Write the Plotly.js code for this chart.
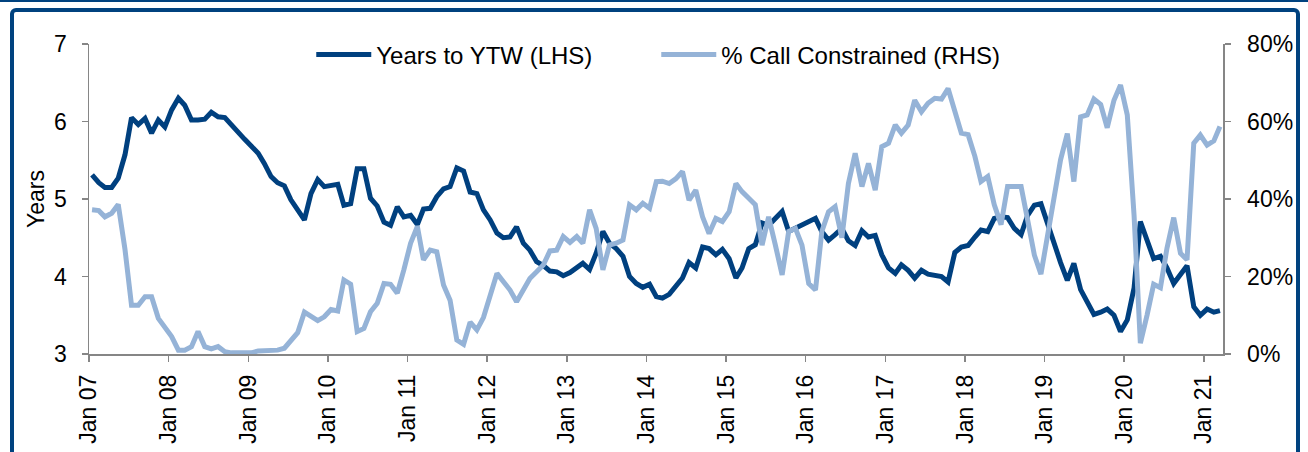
<!DOCTYPE html>
<html>
<head>
<meta charset="utf-8">
<script src="https://cdn.plot.ly/plotly-3.0.1.min.js"></script>
<style>
  body { margin: 0; background: #fff; }
  #wrap { position: relative; width: 1308px; height: 452px; overflow: hidden; }
  #myPlot { width: 1308px; height: 452px; }
  .topline { position: absolute; left: 0; top: 0; width: 1308px; height: 2px; background: #00427f; }
  .frame { position: absolute; left: 10px; top: 8px; width: 1282px; height: 470px;
           border: 4px solid #00427f; border-radius: 6px; pointer-events: none; }
</style>
</head>
<body>
<div id="wrap">
  <div id="myPlot"></div>
  <div class="topline"></div>
  <div class="frame"></div>
</div>
<script>
// monthly series, Jan 07 .. Mar 21
var firstYear = 2007;
var nMonths = 171;

var yearsToYtw = [
  5.31, 5.21, 5.15, 5.15, 5.27, 5.57, 6.05, 5.96, 6.04, 5.85,
  6.02, 5.93, 6.15, 6.30, 6.21, 6.02, 6.02, 6.03, 6.12, 6.06,
  6.05, 5.95, 5.85, 5.77, 5.68, 5.59, 5.46, 5.29, 5.21, 5.17,
  4.99, 4.86, 4.73, 5.07, 5.25, 5.16, 5.17, 5.19, 4.92, 4.94,
  5.39, 5.39, 5.01, 4.91, 4.70, 4.66, 4.90, 4.77, 4.79, 4.67,
  4.87, 4.88, 5.03, 5.13, 5.16, 5.40, 5.36, 5.09, 5.07, 4.86,
  4.73, 4.56, 4.50, 4.51, 4.64, 4.43, 4.34, 4.19, 4.14, 4.07,
  4.06, 4.01, 4.05, 4.11, 4.17, 4.09, 4.30, 4.58, 4.43, 4.36,
  4.26, 4.00, 3.91, 3.86, 3.90, 3.74, 3.72, 3.77, 3.87, 3.98,
  4.18, 4.11, 4.38, 4.36, 4.28, 4.35, 4.23, 3.98, 4.11, 4.36,
  4.41, 4.69, 4.66, 4.74, 4.84, 4.58, 4.62, 4.66, 4.71, 4.75,
  4.58, 4.47, 4.54, 4.62, 4.46, 4.40, 4.59, 4.51, 4.53, 4.28,
  4.11, 4.04, 4.15, 4.08, 3.98, 4.08, 4.03, 4.01, 4.00, 3.93,
  4.31, 4.38, 4.40, 4.51, 4.60, 4.58, 4.75, 4.77, 4.76, 4.62,
  4.54, 4.79, 4.92, 4.94, 4.66, 4.38, 4.18, 3.95, 4.17, 3.83,
  3.68, 3.51, 3.54, 3.58, 3.50, 3.29, 3.44, 3.85, 4.71, 4.47,
  4.23, 4.26, 4.11, 3.91, 4.04, 4.14, 3.61, 3.50, 3.58, 3.54, 3.56
];

// percent of bonds call constrained
var callConstrained = [
  37.2, 37.0, 35.4, 36.3, 38.6, 27.0, 12.6, 12.6, 14.8, 14.8,
  9.2, 6.6, 4.5, 1.0, 1.0, 1.9, 5.8, 1.9, 1.3, 1.9,
  0.6, 0.3, 0.3, 0.2, 0.3, 0.8, 0.8, 1.0, 1.0, 1.5,
  3.4, 5.5, 10.8, 9.6, 8.6, 9.6, 11.5, 11.1, 19.1, 18.0,
  5.8, 6.6, 10.9, 13.1, 18.2, 18.0, 15.7, 21.7, 28.6, 32.9,
  24.3, 26.8, 26.4, 17.8, 13.9, 3.6, 2.5, 8.2, 6.2, 9.4,
  15.2, 20.8, 18.7, 16.5, 13.5, 16.9, 19.5, 21.2, 23.0, 26.6,
  26.8, 30.3, 28.8, 30.3, 28.6, 37.2, 32.4, 21.7, 28.1, 28.6,
  29.4, 38.5, 37.2, 38.9, 37.6, 44.5, 44.6, 44.0, 45.2, 47.1,
  39.7, 42.3, 35.4, 31.1, 35.0, 34.2, 36.7, 44.0, 41.9, 40.2,
  38.5, 28.1, 35.4, 28.1, 20.4, 31.6, 32.4, 28.1, 18.2, 16.5,
  31.6, 36.7, 38.0, 30.0, 44.0, 51.8, 43.2, 49.2, 42.3, 53.5,
  54.4, 59.1, 57.0, 59.1, 65.5, 62.5, 64.7, 66.0, 65.8, 68.5,
  62.4, 57.0, 56.6, 51.0, 44.5, 45.8, 38.5, 33.4, 43.2, 43.2,
  43.2, 34.6, 25.5, 20.6, 30.7, 41.9, 50.1, 56.9, 44.5, 61.2,
  61.7, 65.8, 64.4, 58.4, 65.5, 69.4, 61.7, 35.9, 2.8, 10.1,
  18.0, 17.1, 27.3, 35.2, 26.0, 24.3, 54.4, 56.5, 53.9, 55.0, 58.7
];

var leftTicks = [3, 4, 5, 6, 7];
var rightTicks = [0, 0.2, 0.4, 0.6, 0.8];

// build month dates (mid-month points, like the source)
var months = [];
for (var i = 0; i < nMonths; i++) {
    var y = firstYear + Math.floor(i / 12);
    var m = (i % 12) + 1;
    months.push(y + '-' + (m < 10 ? '0' + m : m) + '-15');
}
var pct = callConstrained.map(function (v) { return v / 100; });

var dark = '#00407f';
var light = '#95b3d7';
var axisGrey = '#868686';
var fontFam = 'Arial, "Liberation Sans", sans-serif';

var data = [
    { x: months, y: pct, name: '% Call Constrained (RHS)', yaxis: 'y2', type: 'scatter', mode: 'lines',
      line: { color: light, width: 5 } },
    { x: months, y: yearsToYtw, name: 'Years to YTW (LHS)', type: 'scatter', mode: 'lines',
      line: { color: dark, width: 5 } }
];

var layout = {
    width: 1308,
    height: 452,
    margin: { l: 89, r: 85, t: 44, b: 98 },
    paper_bgcolor: '#ffffff',
    plot_bgcolor: '#ffffff',
    font: { family: fontFam, size: 23, color: '#000000' },
    showlegend: true,
    legend: {
        orientation: 'h', traceorder: 'reversed',
        x: 0.196, xanchor: 'left', y: 0.965, yanchor: 'middle',
        bgcolor: 'rgba(0,0,0,0)', font: { size: 24 },
        itemwidth: 55, entrywidth: 275
    },
    xaxis: {
        type: 'date',
        range: ['2007-01-01', '2021-03-29'],
        tick0: '2007-01-01', dtick: 'M12', tickformat: '%b %y',
        tickangle: -90,
        showgrid: false, zeroline: false,
        showline: true, linecolor: axisGrey, linewidth: 1.5,
        ticks: 'outside', ticklen: 6, tickcolor: axisGrey, tickwidth: 1.5,
        ticklabelstandoff: 4,
        tickfont: { size: 23 }
    },
    yaxis: {
        range: [3, 7],
        tickvals: leftTicks,
        showgrid: false, zeroline: false,
        showline: true, linecolor: axisGrey, linewidth: 1.5,
        ticks: 'outside', ticklen: 6, tickcolor: axisGrey, tickwidth: 1.5,
        ticklabelstandoff: 10,
        tickfont: { size: 23 },
        title: { text: 'Years', font: { size: 23 }, standoff: 3 }
    },
    yaxis2: {
        overlaying: 'y', side: 'right',
        range: [0, 0.8],
        tickvals: rightTicks, tickformat: '.0%',
        showgrid: false, zeroline: false,
        showline: true, linecolor: axisGrey, linewidth: 1.5,
        ticks: 'outside', ticklen: 6, tickcolor: axisGrey, tickwidth: 1.5,
        ticklabelstandoff: 12,
        tickfont: { size: 23 }
    }
};

Plotly.newPlot(document.getElementById('myPlot'), data, layout, { staticPlot: true, displayModeBar: false });
</script>
</body>
</html>
